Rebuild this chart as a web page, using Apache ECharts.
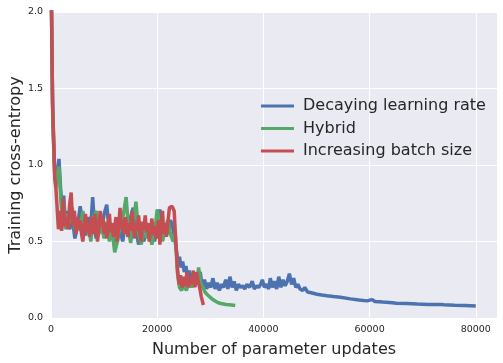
<!DOCTYPE html>
<html lang="en">

<head>
    <meta charset="UTF-8">
    <title>Training cross-entropy</title>
    <style>
        html, body { margin: 0; padding: 0; background: #fff; }
        #app { width: 503px; height: 363px; }
    </style>
</head>

<body>
    <div id="app"></div>
</body>
<script src="https://cdn.jsdelivr.net/npm/echarts@6/dist/echarts.min.js"></script>
<script>
    // tick labels
    var xTicks = [0, 20000, 40000, 60000, 80000];
    var yTicks = [0, 0.5, 1.0, 1.5, 2.0];

    var seriesNames = ['Decaying learning rate', 'Hybrid', 'Increasing batch size'];

    // Decaying learning rate
    var decaySteps = [0, 300, 600, 900, 1200, 1500, 1800, 2100, 2400, 2700, 3000, 3500, 4000, 4500, 5000, 5500, 6000, 6500, 7000, 7500, 7850, 8200, 8500, 9000, 9500, 10000, 10500, 11000, 11500, 12000, 12500, 13000, 13500, 14000, 14500, 15000, 15500, 16000, 16500, 17000, 17500, 18000, 18500, 19000, 19500, 20000, 20500, 21000, 21500, 22000, 22500, 23000, 23300,
        23600, 23900, 24200, 24500, 24800, 25100, 25400, 25700, 26000, 26400, 26800, 27200, 27600, 28100, 28500, 28900, 29300, 29700, 30100, 30500, 30900, 31300, 31700, 32100, 32500, 32900, 33300, 33700, 34100, 34500, 34900, 35300, 35700, 36100, 36500, 36900, 37400, 37900, 38300, 38700, 39100, 39500, 39800, 40200, 40600, 41000, 41300, 41700, 42100, 42500, 42900, 43300, 43700, 44100, 44500, 44900, 45300, 45700, 46100, 46500, 46900,
        47400, 47800, 48300, 49000, 50100, 51000, 52000, 53200, 54500, 56400, 58000, 59500, 60500, 61000, 62500, 64300, 64500, 65000, 67000, 69000, 71000, 73500, 73700, 74000, 76000, 78000, 80000];
    var decayLoss = [2.3, 1.4, 1.05, 0.88, 0.92, 1.04, 0.85, 0.72, 0.8, 0.62, 0.7, 0.58, 0.66, 0.52, 0.6, 0.73, 0.6, 0.54, 0.66, 0.6, 0.79, 0.6, 0.52, 0.62, 0.56, 0.68, 0.74, 0.55, 0.62, 0.46, 0.52, 0.58, 0.5, 0.62, 0.57, 0.66, 0.72, 0.58, 0.48, 0.55, 0.5, 0.62, 0.54, 0.6, 0.5, 0.58, 0.71, 0.52, 0.6, 0.55, 0.64, 0.58, 0.52,
        0.45, 0.36, 0.4, 0.33, 0.37, 0.3, 0.34, 0.28, 0.31, 0.25, 0.29, 0.22, 0.27, 0.3, 0.2, 0.25, 0.19, 0.23, 0.2, 0.26, 0.19, 0.23, 0.18, 0.22, 0.2, 0.25, 0.19, 0.27, 0.2, 0.24, 0.18, 0.22, 0.2, 0.21, 0.19, 0.22, 0.2, 0.24, 0.19, 0.21, 0.2, 0.22, 0.25, 0.2, 0.22, 0.19, 0.26, 0.2, 0.24, 0.19, 0.27, 0.2, 0.25, 0.21, 0.24, 0.29, 0.22, 0.26, 0.2, 0.22, 0.19,
        0.18, 0.2, 0.17, 0.165, 0.155, 0.15, 0.145, 0.14, 0.135, 0.125, 0.118, 0.112, 0.12, 0.108, 0.104, 0.1, 0.105, 0.097, 0.094, 0.091, 0.089, 0.088, 0.097, 0.087, 0.084, 0.082, 0.078];

    // Hybrid
    var hybridSteps = [0, 300, 600, 900, 1200, 1500, 1800, 2100, 2400, 2700, 3000, 3500, 4000, 4500, 5000, 5500, 6000, 6500, 7000, 7500, 8000, 8500, 9000, 9500, 10000, 10500, 11000, 11500, 12000, 12500, 13000, 13500, 14150, 14600, 15000, 15500, 16000, 16500, 17000, 17500, 18000, 18500, 19000, 19500, 20000, 20500, 21000, 21500, 22000, 22500, 23000, 23400,
        23800, 24200, 24600, 25000, 25500, 26000, 26500, 27000, 27500, 27800, 28200, 28600, 29000, 29500, 30000, 30500, 31000, 31500, 32000, 33000, 34000, 34700];
    var hybridLoss = [2.3, 1.35, 1.0, 0.85, 0.94, 0.99, 0.8, 0.65, 0.75, 0.58, 0.68, 0.62, 0.72, 0.58, 0.65, 0.57, 0.7, 0.56, 0.62, 0.5, 0.66, 0.7, 0.55, 0.6, 0.52, 0.63, 0.5, 0.58, 0.43, 0.5, 0.6, 0.65, 0.79, 0.58, 0.49, 0.62, 0.76, 0.55, 0.48, 0.6, 0.52, 0.57, 0.48, 0.55, 0.71, 0.6, 0.5, 0.58, 0.64, 0.55, 0.5, 0.56,
        0.3, 0.2, 0.18, 0.22, 0.18, 0.24, 0.2, 0.26, 0.22, 0.33, 0.23, 0.2, 0.17, 0.15, 0.135, 0.12, 0.11, 0.1, 0.095, 0.088, 0.085, 0.082];

    // Increasing batch size
    var batchSteps = [0, 300, 500, 700, 900, 1100, 1400, 1700, 2000, 2300, 2600, 2900, 3200, 3500, 3800, 4100, 4400, 4700,
        5000, 5250, 5500, 5750, 6000, 6250, 6500, 6750, 7000, 7250, 7500, 7750, 8000, 8250, 8500, 8750, 9000, 9250, 9500, 9750,
        10000, 10250, 10500, 10750, 11000, 11250, 11500, 11750, 12000, 12250, 12500, 12750, 13000, 13250, 13500, 13750, 14000, 14250, 14500, 14750,
        15000, 15250, 15500, 15750, 16000, 16250, 16500, 16750, 17000, 17250, 17500, 17750, 18000, 18250, 18500, 18750, 19000, 19250, 19500, 19750,
        20000, 20250, 20500, 20750, 21000, 21250, 21500, 21750, 22000, 22300, 22800, 23200, 23500,
        23800, 24100, 24400, 24700, 25000, 25300, 25600, 25900, 26200, 26500, 26800, 27100, 27400, 27700, 28000, 28300, 28700];
    var batchLoss = [2.3, 1.4, 1.15, 0.92, 0.86, 0.75, 0.58, 0.7, 0.57, 0.78, 0.6, 0.66, 0.58, 0.74, 0.82, 0.6, 0.7, 0.55,
        0.66, 0.58, 0.64, 0.55, 0.5, 0.6, 0.68, 0.56, 0.62, 0.53, 0.66, 0.6, 0.55, 0.68, 0.62, 0.5, 0.57, 0.7, 0.6, 0.66,
        0.55, 0.62, 0.52, 0.6, 0.68, 0.56, 0.62, 0.53, 0.6, 0.66, 0.5, 0.6, 0.72, 0.58, 0.64, 0.55, 0.66, 0.6, 0.53, 0.62,
        0.57, 0.7, 0.6, 0.52, 0.62, 0.57, 0.67, 0.55, 0.5, 0.63, 0.58, 0.67, 0.56, 0.62, 0.5, 0.58, 0.65, 0.55, 0.6, 0.52,
        0.58, 0.64, 0.48, 0.6, 0.7, 0.55, 0.62, 0.53, 0.62, 0.72, 0.73, 0.7, 0.5,
        0.33, 0.22, 0.28, 0.2, 0.27, 0.21, 0.3, 0.2, 0.26, 0.22, 0.31, 0.2, 0.3, 0.24, 0.2, 0.14, 0.085];

    var colors = ['#4C72B0', '#55A868', '#C44E52'];
    var textColor = '#262626';
    var font = 'DejaVu Sans';

    function zip(xs, ys) {
        return xs.map(function (x, i) { return [x, ys[i]]; });
    }

    var allData = [zip(decaySteps, decayLoss), zip(hybridSteps, hybridLoss), zip(batchSteps, batchLoss)];

    var chart = echarts.init(document.getElementById('app'), null, { renderer: 'canvas' });
    var option = {
        animation: false,
        color: colors,
        grid: {
            left: 51,
            right: 6,
            top: 12,
            bottom: 45,
            containLabel: false,
            outerBoundsMode: 'none',
            show: true,
            backgroundColor: '#EAEAF2',
            borderWidth: 0
        },
        legend: {
            orient: 'vertical',
            left: 256,
            top: 93,
            icon: 'rect',
            itemWidth: 33,
            itemHeight: 3,
            itemGap: 6.5,
            textStyle: { fontFamily: font, fontSize: 16, color: textColor, padding: [0, 0, 0, 4] },
            data: seriesNames
        },
        xAxis: {
            type: 'value',
            min: 0,
            max: 84000,
            interval: 20000,
            name: 'Number of parameter updates',
            nameLocation: 'middle',
            nameGap: 24,
            nameMoveOverlap: false,
            nameTextStyle: { fontFamily: font, fontSize: 16, color: textColor },
            axisLine: { show: false },
            axisTick: { show: false },
            axisLabel: {
                fontFamily: font, fontSize: 9.5, color: textColor, margin: 7,
                showMaxLabel: false,
                formatter: function (v) { return xTicks.indexOf(v) >= 0 ? String(v) : ''; }
            },
            splitLine: { lineStyle: { color: '#fff', width: 1 } }
        },
        yAxis: {
            type: 'value',
            min: 0,
            max: 2,
            interval: 0.5,
            name: 'Training cross-entropy',
            nameLocation: 'middle',
            nameGap: 27,
            nameMoveOverlap: false,
            nameTextStyle: { fontFamily: font, fontSize: 16, color: textColor },
            axisLine: { show: false },
            axisTick: { show: false },
            axisLabel: {
                fontFamily: font, fontSize: 9.5, color: textColor, margin: 8,
                formatter: function (v) { return yTicks.indexOf(v) >= 0 ? v.toFixed(1) : ''; }
            },
            splitLine: { lineStyle: { color: '#fff', width: 1 } }
        },
        series: seriesNames.map(function (name, i) {
            return {
                name: name,
                type: 'line',
                data: allData[i],
                showSymbol: false,
                clip: true,
                lineStyle: { width: 3.5, color: colors[i] },
                z: 2 + i
            };
        })
    };
    chart.setOption(option);
</script>

</html>
